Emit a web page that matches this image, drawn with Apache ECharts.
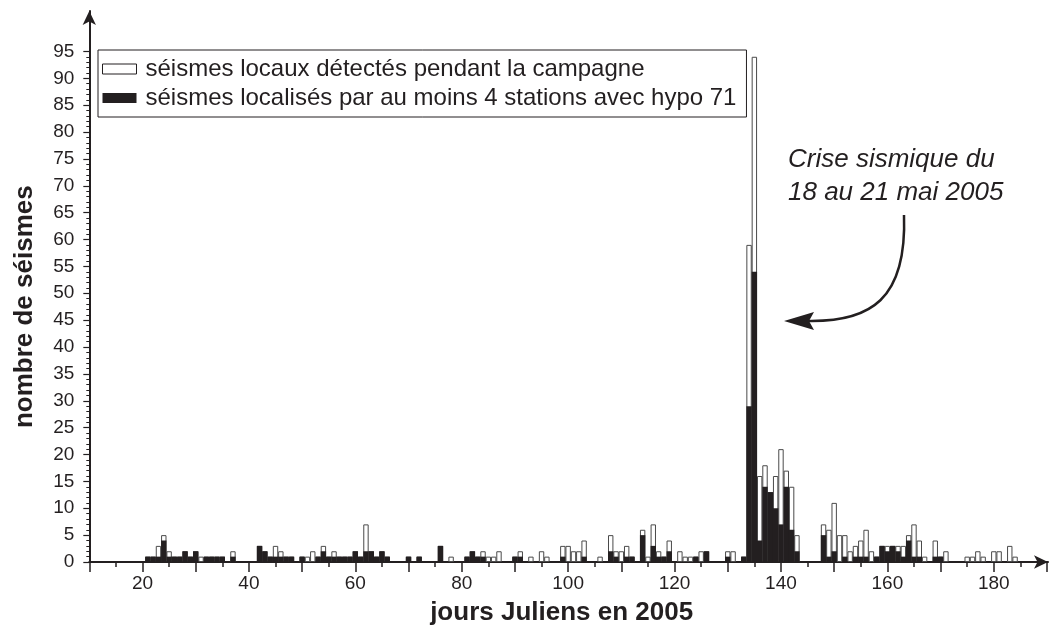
<!DOCTYPE html>
<html><head><meta charset="utf-8">
<script src="https://cdn.jsdelivr.net/npm/echarts@6/dist/echarts.min.js"></script>
<style>html,body{margin:0;padding:0;background:#fff}#c{width:1050px;height:633px}</style>
</head><body><div id="c"></div>
<script>
// Julian day (2005) of each non-empty bar
const days = [21,22,23,24,25,26,27,28,29,30,31,32,33,34,35,37,42,43,44,45,46,47,48,50,51,52,53,54,55,56,57,58,59,60,61,62,63,64,65,66,70,72,76,78,81,82,83,84,85,86,87,90,91,93,95,96,99,100,101,102,103,106,108,109,110,111,112,114,115,116,117,118,119,121,122,123,124,125,126,130,131,133,134,135,136,137,138,139,140,141,142,143,148,149,150,151,152,153,154,155,156,157,158,159,160,161,162,163,164,165,166,167,169,170,171,175,176,177,178,180,181,183,184];
// local earthquakes detected during the campaign (white bars)
const detected = [1,1,3,5,2,1,1,2,1,2,1,1,1,1,1,2,3,2,1,3,2,1,1,1,1,2,1,3,1,2,1,1,1,2,1,7,2,1,2,1,1,1,3,1,1,2,1,2,1,1,2,1,2,1,2,1,3,3,2,2,4,1,5,2,2,3,1,6,1,7,2,1,4,2,1,1,1,2,2,2,2,1,59,94,16,18,13,16,21,17,14,5,7,6,11,5,5,2,3,4,6,2,1,3,3,3,3,3,5,7,4,1,4,1,2,1,1,2,1,2,2,3,1];
// earthquakes located by at least 4 stations with hypo 71 (black bars)
const localized = [1,1,1,4,1,1,1,2,1,2,0,1,1,1,1,1,3,2,1,1,1,1,1,1,0,0,1,2,1,1,1,1,1,2,1,2,2,1,2,1,1,1,3,0,1,2,1,1,0,0,0,1,1,0,0,0,1,0,0,0,1,0,2,1,0,1,1,5,0,3,1,1,2,0,0,0,1,0,2,1,0,1,29,54,4,14,13,10,7,14,6,2,5,1,2,0,1,0,1,1,1,0,1,3,2,3,2,1,4,1,1,0,1,1,0,0,0,0,0,0,0,0,0];

const legendNames = ['séismes locaux détectés pendant la campagne','séismes localisés par au moins 4 stations avec hypo 71'];
const xTitle = 'jours Juliens en 2005';
const yTitle = 'nombre de séismes';
const noteLines = ['Crise sismique du','18 au 21 mai 2005'];

const INK = '#231f20';
const FONT = 'Liberation Sans, Arial, sans-serif';

const whiteData = days.map((d,i)=>[d, detected[i]]);
const blackData = days.map((d,i)=>[d, localized[i]]).filter(p=>p[1]>0);

const chart = echarts.init(document.getElementById('c'), null, {renderer:'canvas'});
chart.setOption({
  animation:false,
  backgroundColor:'#fff',
  grid:[
    {left:89.3, width:972, top:51.4, bottom:71},
    {left:89.3, right:2, top:11, bottom:71}
  ],
  xAxis:[
    {gridIndex:0, type:'value', min:10, max:190, interval:10,
     axisLine:{show:false}, splitLine:{show:false},
     axisTick:{show:true, length:10, lineStyle:{color:INK, width:1.5}},
     minorTick:{show:true, splitNumber:2, length:5, lineStyle:{color:INK, width:1.5}},
     axisLabel:{color:INK, fontSize:19, fontFamily:FONT, margin:12,
       formatter:v=> (v%20===0 && v>=20 && v<=180) ? String(v) : ''}},
    {gridIndex:1, type:'value', min:0, max:1,
     axisLine:{show:true, symbol:['none','arrow'], symbolSize:[10,14], lineStyle:{color:INK, width:2}},
     axisTick:{show:false}, axisLabel:{show:false}, splitLine:{show:false},
     name:xTitle, nameLocation:'middle', nameGap:38,
     nameTextStyle:{color:INK, fontSize:26, fontWeight:'bold', fontFamily:FONT, padding:[0,14,0,0]}}
  ],
  yAxis:[
    {gridIndex:0, type:'value', min:0, max:95, interval:5,
     axisLine:{show:false}, splitLine:{show:false},
     axisTick:{show:true, length:6, lineStyle:{color:INK, width:1.2}},
     minorTick:{show:true, splitNumber:5, length:3, lineStyle:{color:INK, width:1}},
     axisLabel:{color:INK, fontSize:19, fontFamily:FONT, margin:15},
     name:yTitle, nameLocation:'middle', nameGap:51,
     nameTextStyle:{color:INK, fontSize:26, fontWeight:'bold', fontFamily:FONT}},
    {gridIndex:1, type:'value', min:0, max:1,
     axisLine:{show:true, symbol:['none','arrow'], symbolSize:[10,14], lineStyle:{color:INK, width:2}},
     axisTick:{show:false}, axisLabel:{show:false}, splitLine:{show:false}}
  ],
  legend:{
    left:98, top:50, orient:'vertical', itemGap:3, itemWidth:34, itemHeight:10,
    borderColor:INK, borderWidth:1, padding:[6,10,6,4],
    textStyle:{fontSize:24, lineHeight:26, color:INK, fontFamily:FONT, padding:[0,0,0,4]},
    data:[
      {name:legendNames[0], icon:'rect', itemStyle:{color:'#fff', borderColor:INK, borderWidth:1}},
      {name:legendNames[1], icon:'rect', itemStyle:{color:INK, borderWidth:0}}
    ]
  },
  series:[
    {name:legendNames[0], type:'bar', xAxisIndex:0, yAxisIndex:0, data:whiteData,
     barWidth:5.4, barGap:'-100%',
     itemStyle:{color:'#fff', borderColor:'#4a4a4a', borderWidth:1}},
    {name:legendNames[1], type:'bar', xAxisIndex:0, yAxisIndex:0, data:blackData,
     barWidth:5.4, barGap:'-100%',
     itemStyle:{color:INK, borderWidth:0}}
  ],
  graphic:[
    {type:'text', left:788, top:147, style:{text:noteLines[0], fill:INK, font:'italic 26px '+FONT}},
    {type:'text', left:788, top:180, style:{text:noteLines[1], fill:INK, font:'italic 26px '+FONT}},
    {type:'bezierCurve', shape:{x1:904,y1:215,cpx1:907,cpy1:300,cpx2:870,cpy2:322,x2:808,y2:321},
     style:{stroke:INK, lineWidth:2.5, fill:null}},
    {type:'polygon', shape:{points:[[784,321],[814,312],[809,321],[814,330]]}, style:{fill:INK}}
  ]
});
</script></body></html>
